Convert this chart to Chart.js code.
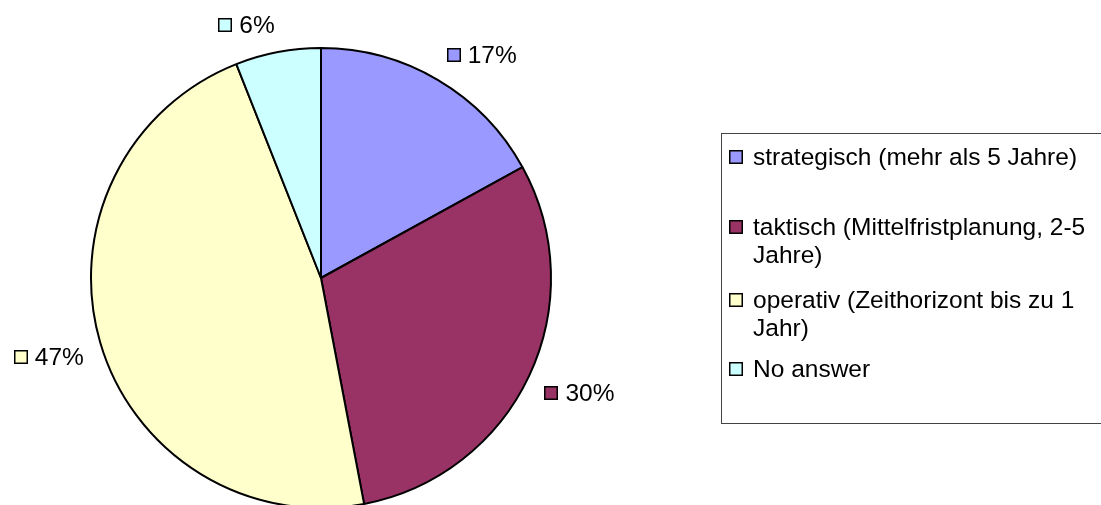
<!DOCTYPE html>
<html>
<head>
<meta charset="utf-8">
<script src="https://cdn.jsdelivr.net/npm/chart.js@4.4.1/dist/chart.umd.min.js"></script>
<style>
  html, body { margin:0; padding:0; background:#fff; overflow:hidden; }
  #wrap { width:1101px; height:505px; position:relative; }
</style>
</head>
<body>
<div id="wrap"><canvas id="pie" width="1101" height="505"></canvas></div>
<script>
/* ---------- Data ---------- */
const categories = [
  'strategisch (mehr als 5 Jahre)',
  'taktisch (Mittelfristplanung, 2-5 Jahre)',
  'operativ (Zeithorizont bis zu 1 Jahr)',
  'No answer'
];
const shares = [17, 30, 47, 6];
const sliceColors = ['#9999FF', '#993366', '#FFFFCC', '#CCFFFF'];

/* ---------- Layout ---------- */
const FONT = '24.5px "Liberation Sans", Arial, Helvetica, sans-serif';
const MARK = 14;            // marker square size
const LABEL_GAP = 17;       // distance label corner <-> pie edge
const LEGEND_BOX = { left:721, top:133, right:1110, bottom:423 };
const LEGEND_Y = [157, 227, 300, 369]; // first-line centres
const LEGEND_LINE = 28;
const LEGEND_TEXT_X = 753;

function wrapText(ctx, text, maxW){
  const words = text.split(' ');
  const lines = [];
  let cur = '';
  words.forEach(w=>{
    const test = cur ? cur + ' ' + w : w;
    if(cur && ctx.measureText(test).width > maxW){ lines.push(cur); cur = w; }
    else cur = test;
  });
  if(cur) lines.push(cur);
  return lines;
}

function drawMarker(ctx, x, yMid, color){
  const top = Math.round(yMid - MARK/2);
  ctx.fillStyle = color;
  ctx.fillRect(x, top, MARK, MARK);
  ctx.strokeStyle = '#000';
  ctx.lineWidth = 1.5;
  ctx.strokeRect(x + 0.75, top + 0.75, MARK - 1.5, MARK - 1.5);
}

const labelsAndLegend = {
  id: 'labelsAndLegend',
  afterDraw(chart){
    const ctx = chart.ctx;
    ctx.save();
    ctx.font = FONT;
    ctx.textBaseline = 'middle';
    ctx.textAlign = 'left';

    // slice labels, placed by corner along mid angle
    chart.getDatasetMeta(0).data.forEach((arc, i)=>{
      const p = arc.getProps(['x','y','startAngle','endAngle','outerRadius'], true);
      const mid = (p.startAngle + p.endAngle) / 2;
      const r = p.outerRadius + LABEL_GAP;
      const ax = p.x + Math.cos(mid) * r;
      const ay = p.y + Math.sin(mid) * r;
      const txt = shares[i] + '%';
      const w = MARK + 7 + ctx.measureText(txt).width;
      const h = 20;
      const left = Math.cos(mid) >= 0 ? ax : ax - w;
      const top = Math.sin(mid) >= 0 ? ay : ay - h;
      const yMid = top + h/2;
      drawMarker(ctx, Math.round(left), yMid, sliceColors[i]);
      ctx.fillStyle = '#000';
      ctx.fillText(txt, left + MARK + 7, yMid + 1);
    });

    // legend box
    const b = LEGEND_BOX;
    ctx.strokeStyle = '#444';
    ctx.lineWidth = 1;
    ctx.strokeRect(b.left + 0.5, b.top + 0.5, b.right - b.left, b.bottom - b.top);
    categories.forEach((name, i)=>{
      const lines = wrapText(ctx, name, chart.width - LEGEND_TEXT_X);
      const y0 = LEGEND_Y[i];
      drawMarker(ctx, 729, y0, sliceColors[i]);
      ctx.fillStyle = '#000';
      lines.forEach((ln, k)=> ctx.fillText(ln, LEGEND_TEXT_X, y0 + 1 + k * LEGEND_LINE));
    });
    ctx.restore();
  }
};

new Chart(document.getElementById('pie'), {
  type: 'pie',
  data: {
    labels: categories,
    datasets: [{
      data: shares,
      backgroundColor: sliceColors,
      borderColor: '#000',
      borderWidth: 2
    }]
  },
  options: {
    responsive: false,
    animation: false,
    radius: 230,
    layout: { padding: { left: 0, right: 459, top: 51, bottom: 0 } },
    plugins: { legend: { display: false }, tooltip: { enabled: false } }
  },
  plugins: [labelsAndLegend]
});
</script>
</body>
</html>
